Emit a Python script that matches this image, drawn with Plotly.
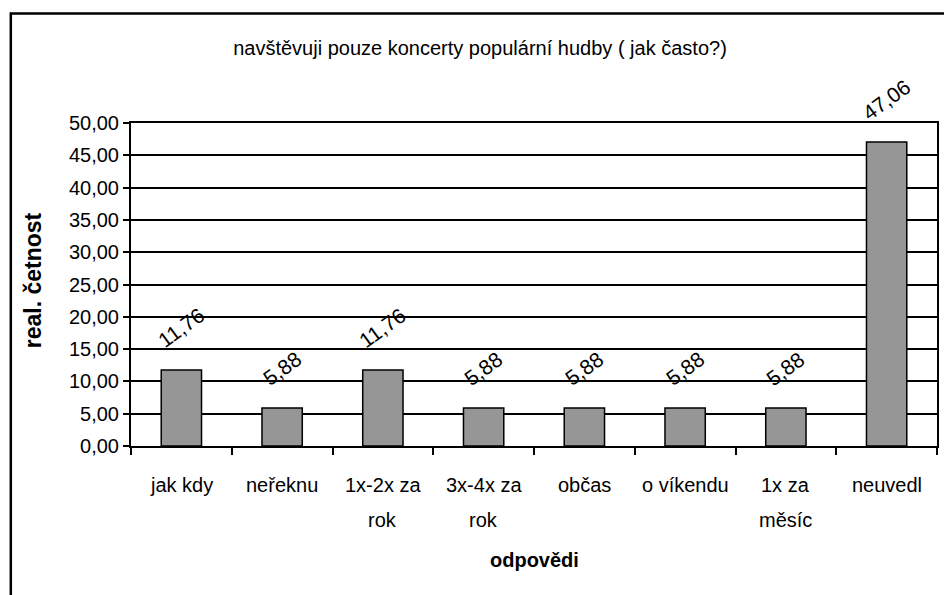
import plotly.graph_objects as go

# Survey answers and relative frequencies (%)
categories = ["jak kdy", "neřeknu", "1x-2x za rok", "3x-4x za rok",
              "občas", "o víkendu", "1x za měsíc", "neuvedl"]
tick_lines = [["jak kdy"], ["neřeknu"], ["1x-2x za", "rok"], ["3x-4x za", "rok"],
              ["občas"], ["o víkendu"], ["1x za", "měsíc"], ["neuvedl"]]
values = [11.76, 5.88, 11.76, 5.88, 5.88, 5.88, 5.88, 47.06]

title_text = "navštěvuji pouze koncerty populární hudby ( jak často?)"
x_title = "odpovědi"
y_title = "real. četnost"

FONT = "Liberation Sans, Arial, sans-serif"
W, H = 944, 595
ML, MR, MT, MB = 131, 5, 123, 149
PW, PH = W - ML - MR, H - MT - MB


def px_to_paper_x(px):
    return (px - ML) / PW


def px_to_paper_y(py):
    return (H - MB - py) / PH


fig = go.Figure(go.Bar(
    x=categories, y=values,
    marker=dict(color="#969696", line=dict(color="black", width=1.5)),
    hoverinfo="skip",
))

annotations = []
# value labels above bars
for c, v in zip(categories, values):
    annotations.append(dict(
        x=c, y=v, xref="x", yref="y",
        text=f"{v:.2f}".replace(".", ","),
        textangle=-36, showarrow=False,
        xanchor="center", yanchor="bottom", yshift=15,
        font=dict(family=FONT, size=21, color="black"),
    ))
# category labels (one annotation per line)
line_y = [485, 520]
for c, lines in zip(categories, tick_lines):
    for i, ln in enumerate(lines):
        annotations.append(dict(
            x=c, y=px_to_paper_y(line_y[i]), xref="x", yref="paper",
            text=ln, showarrow=False, xanchor="center", yanchor="middle",
            font=dict(family=FONT, size=20, color="black"),
        ))
# axis titles
annotations.append(dict(
    x=0.5, y=px_to_paper_y(560), xref="paper", yref="paper",
    text=f"<b>{x_title}</b>", showarrow=False, xanchor="center", yanchor="middle",
    font=dict(family=FONT, size=20, color="black"),
))
annotations.append(dict(
    x=px_to_paper_x(33), y=px_to_paper_y(280), xref="paper", yref="paper",
    text=f"<b>{y_title}</b>", showarrow=False, textangle=-90,
    xanchor="center", yanchor="middle",
    font=dict(family=FONT, size=23, color="black"),
))

fig.update_layout(
    width=W, height=H, autosize=False,
    margin=dict(l=ML, r=MR, t=MT, b=MB, pad=0),
    paper_bgcolor="white", plot_bgcolor="white",
    separators=", ",
    showlegend=False,
    bargap=0.6,
    title=dict(
        text=title_text, xref="container", yref="container",
        x=480 / W, y=1 - 48 / H, xanchor="center", yanchor="middle",
        font=dict(family=FONT, size=20, color="black"),
    ),
    xaxis=dict(
        type="category", showline=True, linecolor="black", linewidth=2,
        mirror=True, ticks="outside", tickson="boundaries", ticklen=7,
        tickcolor="black", tickwidth=1.5, showticklabels=False,
        showgrid=False, zeroline=False,
    ),
    yaxis=dict(
        range=[0, 50], dtick=5, tickformat=".2f",
        showline=True, linecolor="black", linewidth=2, mirror=True,
        ticks="outside", ticklen=6, tickcolor="black", tickwidth=1.5,
        showgrid=True, gridcolor="black", gridwidth=2, zeroline=False,
        tickfont=dict(family=FONT, size=20, color="black"),
    ),
    annotations=annotations,
    shapes=[dict(
        type="rect", xref="paper", yref="paper",
        x0=px_to_paper_x(10.5), x1=px_to_paper_x(W + 20),
        y0=px_to_paper_y(13.5), y1=px_to_paper_y(H + 20),
        line=dict(color="black", width=2.5), fillcolor="rgba(0,0,0,0)",
        layer="above",
    )],
)

fig.write_html("out.html")
